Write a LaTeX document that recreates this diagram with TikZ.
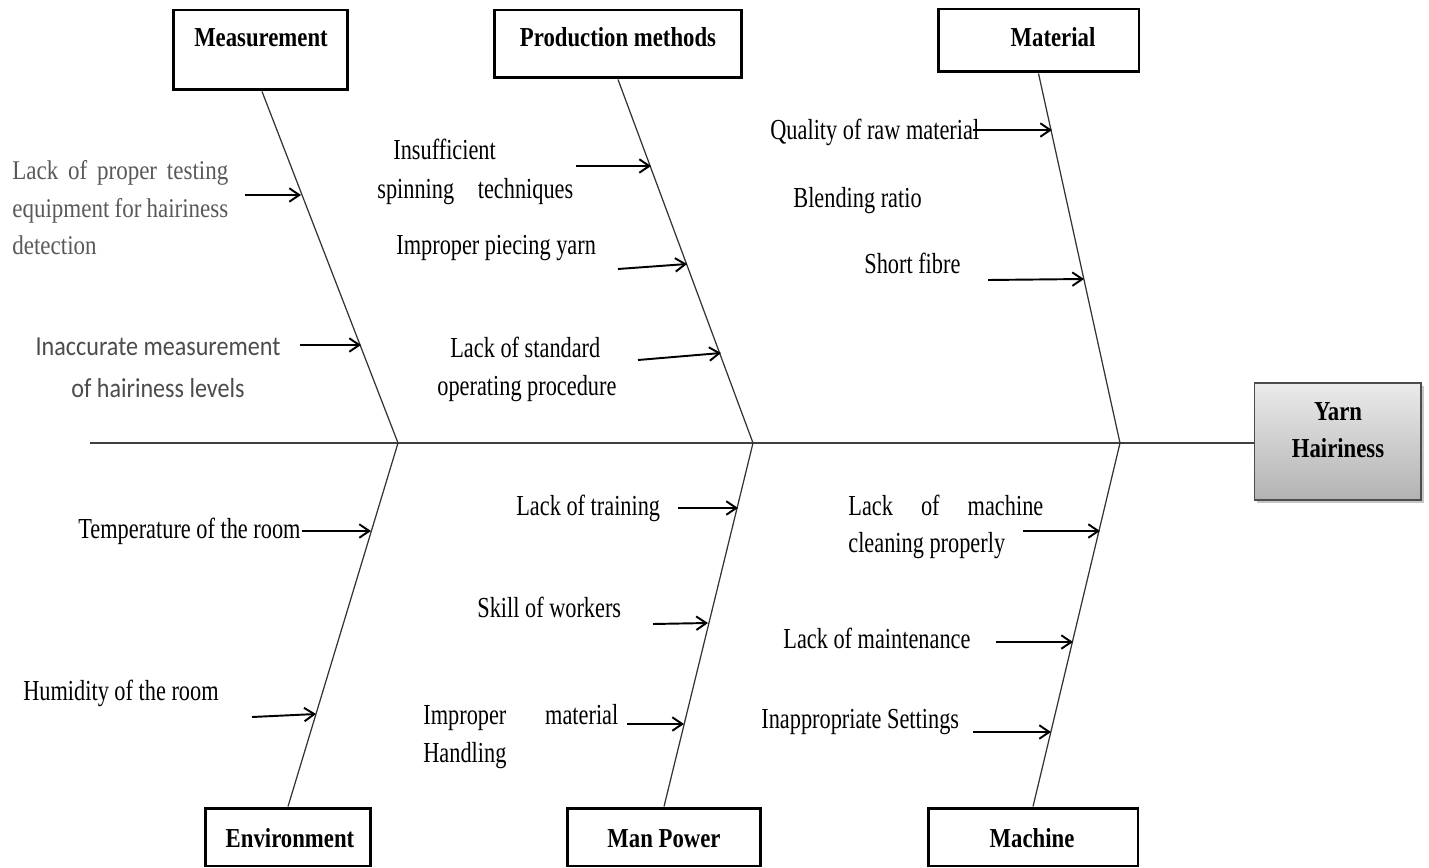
\documentclass[tikz,border=0pt]{standalone}
\usepackage{fontspec}
\setmainfont{Liberation Serif}
\newfontfamily\condreg{Liberation Serif}[FakeStretch=0.77]
\newfontfamily\condbold{Liberation Serif}[FakeStretch=0.83]
\newfontfamily\condgray{Liberation Serif}[FakeStretch=0.85]
\newfontfamily\calibsans{Carlito}[FakeStretch=0.88]
\usetikzlibrary{arrows.meta,shadows}
\tikzset{
  cause/.style={font=\condreg\fontsize{16.5}{20}\selectfont, inner sep=0pt, anchor=base west},
  causegray/.style={font=\condgray\fontsize{15.4}{19}\selectfont, text=black!65, inner sep=0pt, anchor=base west},
  causesans/.style={font=\calibsans\fontsize{15.6}{24}\selectfont, text=black!70, inner sep=0pt, align=center},
  catbox/.style={draw, line width=1.7pt, inner sep=0pt, fill=white},
  catlabel/.style={font=\condbold\bfseries\fontsize{15.6}{19}\selectfont, inner sep=0pt, anchor=base},
  rib/.style={draw=black!80, line width=0.7pt},
  spine/.style={draw=black!75, line width=0.8pt},
  causearrow/.style={line width=1.1pt, -{Straight Barb[length=2mm,width=2.7mm]}},
}
\begin{document}
\begin{tikzpicture}[x=0.02cm,y=-0.02cm]
\useasboundingbox[fill=white] (0,0) rectangle (1429,868);

% head
\node[draw=black!70, line width=0.6pt, top color=black!8, bottom color=black!30,
      drop shadow={shadow xshift=0.06cm, shadow yshift=-0.06cm, opacity=0.45},
      minimum width=3.34cm, minimum height=2.34cm, inner sep=0pt] (yarn) at (1337.5,441.5) {};
\node[catlabel] (yarnl1) at (1338,420) {Yarn};
\node[catlabel] (yarnl2) at (1338,457) {Hairiness};

% category boxes
\node[catbox, minimum width=3.5cm, minimum height=1.6cm] (meas) at (260.5,50) {};
\node[catbox, minimum width=4.96cm, minimum height=1.36cm] (prod) at (618,44) {};
\node[catbox, minimum width=4.02cm, minimum height=1.26cm] (mat) at (1038.5,40.5) {};
\node[catbox, minimum width=3.32cm, minimum height=1.16cm] (env) at (288,837) {};
\node[catbox, minimum width=3.88cm, minimum height=1.16cm] (man) at (664,837) {};
\node[catbox, minimum width=4.2cm, minimum height=1.16cm] (mach) at (1033,837) {};

\node[catlabel] (measl) at (261,47) {Measurement};
\node[catlabel] (prodl) at (618,47) {Production methods};
\node[catlabel] (matl) at (1053,47) {Material};
\node[catlabel] (envl) at (290,847) {Environment};
\node[catlabel] (manl) at (664,847) {Man Power};
\node[catlabel] (machl) at (1032,847) {Machine};

% spine and ribs
\coordinate (tail) at (90,443);
\coordinate (j1) at (398,443);
\coordinate (j2) at (753,443);
\coordinate (j3) at (1120,443);
\draw[spine] (tail) -- (yarn.west |- tail);
\draw[rib] (meas.south) ++(1.5,0) -- (j1);
\draw[rib] (prod.south) -- (j2);
\draw[rib] (mat.south) -- (j3);
\draw[rib] (env.north) -- (j1);
\draw[rib] (man.north) -- (j2);
\draw[rib] (mach.north) -- (j3);

% Measurement causes
\node[causegray] (m1a) at (12,180) {\makebox[4.32cm][s]{Lack of proper testing}};
\node[causegray] (m1b) at (12,217) {\makebox[4.32cm][s]{equipment for hairiness}};
\node[causegray] (m1c) at (12,255) {detection};
\node[causesans] (m2) at (158,368) {Inaccurate measurement\\of hairiness levels};

% Production methods causes
\node[cause] (p1a) at (393,160) {Insufficient};
\node[cause] (p1b) at (377,198) {\makebox[3.92cm][s]{spinning techniques}};
\node[cause] (p2) at (396,255) {Improper piecing yarn};
\node[cause] (p3a) at (450,357) {Lack of standard};
\node[cause] (p3b) at (437,395) {operating procedure};

% Material causes
\node[cause] (t1) at (770,140) {Quality of raw material};
\node[cause] (t2) at (793,208) {Blending ratio};
\node[cause] (t3) at (864,273) {Short fibre};

% Environment causes
\node[cause] (e1) at (78,538) {Temperature of the room};
\node[cause] (e2) at (23,700) {Humidity of the room};

% Man Power causes
\node[cause] (w1) at (516,515) {Lack of training};
\node[cause] (w2) at (477,617) {Skill of workers};
\node[cause] (w3a) at (423,724) {\makebox[3.9cm][s]{Improper material}};
\node[cause] (w3b) at (423,762) {Handling};

% Machine causes
\node[cause] (c1a) at (848,515) {\makebox[3.9cm][s]{Lack of machine}};
\node[cause] (c1b) at (848,552) {cleaning properly};
\node[cause] (c2) at (783,648) {Lack of maintenance};
\node[cause] (c3) at (761,728) {Inappropriate Settings};

% arrows
\coordinate (a1s) at (245,195);  \coordinate (a1e) at (301,195);
\coordinate (a2s) at (300,345);  \coordinate (a2e) at (361,345);
\coordinate (a3s) at (576,166);  \coordinate (a3e) at (651,166);
\coordinate (a4s) at (618,269);  \coordinate (a4e) at (687,264);
\coordinate (a5s) at (638,360);  \coordinate (a5e) at (721,353);
\coordinate (a6s) at (973,130);  \coordinate (a6e) at (1052,130);
\coordinate (a7s) at (988,280);  \coordinate (a7e) at (1084,279);
\coordinate (a8s) at (302,531);  \coordinate (a8e) at (371,531);
\coordinate (a9s) at (252,717);  \coordinate (a9e) at (316,714);
\coordinate (a10s) at (678,508); \coordinate (a10e) at (738,508);
\coordinate (a11s) at (653,624); \coordinate (a11e) at (708,623);
\coordinate (a12s) at (627,724); \coordinate (a12e) at (684,724);
\coordinate (a13s) at (1023,531); \coordinate (a13e) at (1100,531);
\coordinate (a14s) at (996,642); \coordinate (a14e) at (1073,642);
\coordinate (a15s) at (973,732); \coordinate (a15e) at (1051,732);
\foreach \i in {1,...,15} {\draw[causearrow] (a\i s) -- (a\i e);}
\end{tikzpicture}
\end{document}
